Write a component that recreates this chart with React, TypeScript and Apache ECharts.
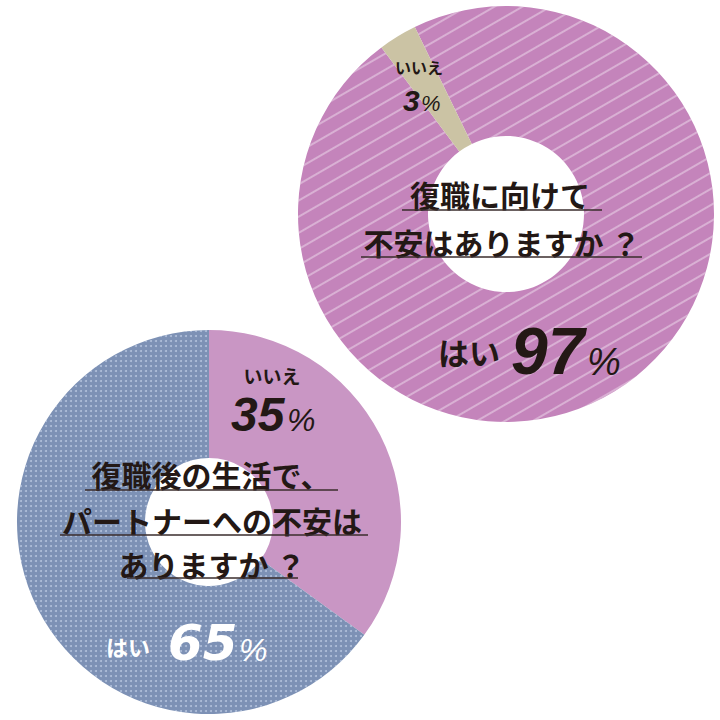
import React, { useEffect, useRef } from 'react';
import * as echarts from 'echarts';

// top donut: 復職に向けて不安はありますか？
const topCategories = ['はい', 'いいえ'];
const topValues = [97, 3];
const topQuestion = ['復職に向けて', '不安はありますか ？'];

// bottom pie: パートナーへの不安
const bottomCategories = ['いいえ', 'はい'];
const bottomValues = [35, 65];
const bottomQuestion = ['復職後の生活で、', 'パートナーへの不安は', 'ありますか ？'];

const JP = '"Noto Sans CJK JP", "Noto Sans", sans-serif';
const NUM = '"Liberation Sans", Arial, sans-serif';
const NUM_WIDE = '"DejaVu Sans", sans-serif';
const INK = '#231815';

const stripeDecal = {
  symbol: 'rect',
  symbolSize: 1,
  dashArrayX: [1, 0],
  dashArrayY: [1.5, 11.5],
  rotation: -Math.PI / 6,
  color: 'rgba(255,255,255,0.36)',
};

const dotDecal = {
  symbol: 'circle',
  symbolSize: 1,
  dashArrayX: [1.8, 2.8],
  dashArrayY: [1.8, 2.8],
  color: 'rgba(225,235,255,0.5)',
};

const underline = (x1: number, x2: number, y: number) => ({
  type: 'line',
  z: 100,
  shape: { x1, y1: y, x2, y2: y },
  style: { stroke: '#3a2c2c', lineWidth: 1.5 },
  silent: true,
});

const txt = (text: string, x: number, y: number, extra: any) => ({
  type: 'text',
  z: 100,
  x,
  y,
  silent: true,
  style: {
    text,
    align: 'center',
    verticalAlign: 'middle',
    fill: INK,
    fontFamily: JP,
    fontWeight: 'bold',
    ...extra,
  },
});

const App: React.FC = () => {
  const chartRef = useRef<HTMLDivElement>(null);

  useEffect(() => {
    document.body.style.margin = '0';
    if (!chartRef.current) return;
    const chart = echarts.init(chartRef.current, undefined, { renderer: 'svg' });

    const option: any = {
      animation: false,
      backgroundColor: '#ffffff',
      series: [
        {
          type: 'pie',
          center: [506, 214],
          radius: [78, 208],
          startAngle: 116,
          clockwise: true,
          silent: true,
          label: { show: false },
          labelLine: { show: false },
          data: topCategories.map((name, i) => ({
            name,
            value: topValues[i],
            itemStyle:
              i === 0
                ? { color: '#c484bb', decal: stripeDecal }
                : { color: '#cbc3a4' },
          })),
        },
        {
          type: 'pie',
          center: [209, 522],
          radius: [64, 192],
          startAngle: 90,
          clockwise: true,
          silent: true,
          label: { show: false },
          labelLine: { show: false },
          data: bottomCategories.map((name, i) => ({
            name,
            value: bottomValues[i],
            itemStyle:
              i === 0
                ? { color: '#c996c4' }
                : { color: '#7d91b5', decal: dotDecal },
          })),
        },
      ],
      graphic: [
        // top donut question
        txt(topQuestion[0], 500, 194, { fontSize: 30 }),
        underline(402, 602, 210),
        txt(topQuestion[1], 502, 242, { fontSize: 30 }),
        underline(361, 642, 257),
        // top donut labels
        txt(topCategories[1], 419, 67, { fontSize: 16 }),
        txt(`${topValues[1]}`, 403, 100, {
          align: 'left',
          fontFamily: NUM,
          fontStyle: 'italic',
          fontSize: 30,
        }),
        txt('%', 421, 103, {
          align: 'left',
          fontFamily: NUM,
          fontStyle: 'italic',
          fontWeight: 'normal',
          fontSize: 22,
        }),
        txt(topCategories[0], 469, 351, { fontSize: 31 }),
        txt(`${topValues[0]}`, 511, 351, {
          align: 'left',
          fontFamily: NUM,
          fontStyle: 'italic',
          fontSize: 66,
        }),
        txt('%', 587, 362, {
          align: 'left',
          fontFamily: NUM,
          fontWeight: 'normal',
          fontStyle: 'italic',
          fontSize: 38,
        }),
        // bottom pie question
        txt(bottomQuestion[0], 211, 474, { fontSize: 30 }),
        underline(85, 338, 490),
        txt(bottomQuestion[1], 212, 520, { fontSize: 30 }),
        underline(60, 368, 535),
        txt(bottomQuestion[2], 212, 564, { fontSize: 30 }),
        underline(127, 298, 578),
        // bottom pie labels
        txt(bottomCategories[0], 272, 375, { fontSize: 19 }),
        txt(`${bottomValues[0]}`, 231, 414, {
          align: 'left',
          fontFamily: NUM,
          fontStyle: 'italic',
          fontSize: 48,
        }),
        txt('%', 287, 420, {
          align: 'left',
          fontFamily: NUM,
          fontStyle: 'italic',
          fontWeight: 'normal',
          fontSize: 32,
        }),
        txt(bottomCategories[1], 128, 646, { fontSize: 22, fill: '#ffffff' }),
        txt(`${bottomValues[1]}`, 168, 643, {
          align: 'left',
          fontFamily: NUM_WIDE,
          fontStyle: 'italic',
          fontSize: 50,
          fill: '#ffffff',
        }),
        txt('%', 239, 650, {
          align: 'left',
          fontFamily: NUM,
          fontStyle: 'italic',
          fontWeight: 'normal',
          fontSize: 32,
          fill: '#ffffff',
        }),
      ],
    };

    chart.setOption(option);

    return () => {
      chart.dispose();
    };
  }, []);

  return <div ref={chartRef} style={{ width: '720px', height: '720px' }} />;
};

export default App;
